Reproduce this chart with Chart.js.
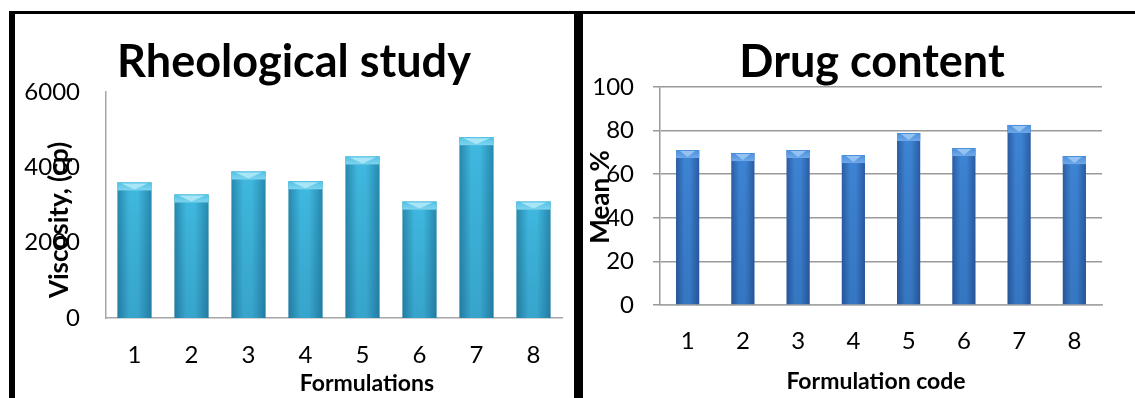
<!DOCTYPE html>
<html>
<head>
<meta charset="utf-8">
<script src="https://cdn.jsdelivr.net/npm/chart.js@4"></script>
<style>
  html, body { margin: 0; padding: 0; background: #fff; }
  body { width: 1135px; height: 398px; position: relative; overflow: hidden; }
  .rule { position: absolute; background: #000; }
  .panel { position: absolute; }
</style>
</head>
<body>
<div class="rule" style="left:9px;top:11px;width:1126px;height:3px;"></div>
<div class="rule" style="left:9px;top:11px;width:6px;height:387px;"></div>
<div class="rule" style="left:574px;top:11px;width:9px;height:387px;"></div>
<div class="panel" style="left:15px;top:14px;width:558px;height:384px;"><canvas id="rheo" width="558" height="384"></canvas></div>
<div class="panel" style="left:583px;top:14px;width:552px;height:384px;"><canvas id="drug" width="552" height="384"></canvas></div>
<script>
// Formulation codes shared by both panels
const formulations = ['1', '2', '3', '4', '5', '6', '7', '8'];
// Viscosity of each formulation, cp
const viscosity = [3600, 3280, 3890, 3630, 4290, 3090, 4800, 3090];
const viscosityTicks = [0, 2000, 4000, 6000];
// Mean drug content of each formulation, %
const drugContent = [71.1, 69.7, 71.1, 68.8, 78.9, 72.0, 82.6, 68.3];
const drugTicks = [0, 20, 40, 60, 80, 100];

const FONT = 'Lato, "Open Sans", sans-serif';

// Horizontal cylinder-like shading for each bar, computed from the x scale.
function barShade(edge, mid, pct) {
  return function (c) {
    const chart = c.chart;
    const xs = chart.scales && chart.scales.x;
    if (c.dataIndex === undefined || !xs || !chart.chartArea) return mid;
    const cx = xs.getPixelForValue(c.dataIndex);
    const w = (xs.width / formulations.length) * pct;
    const g = chart.ctx.createLinearGradient(cx - w / 2, 0, cx + w / 2, 0);
    g.addColorStop(0, edge);
    g.addColorStop(0.35, mid);
    g.addColorStop(0.6, mid);
    g.addColorStop(1, edge);
    return g;
  };
}

// Lighter bevelled cap on top of each bar, and a soft darkening toward the base
const barCaps = {
  id: 'barCaps',
  afterDatasetsDraw(chart, args, opts) {
    const ctx = chart.ctx;
    chart.getDatasetMeta(0).data.forEach(bar => {
      const { x, y, width, base } = bar.getProps(['x', 'y', 'width', 'base'], true);
      const l = x - width / 2, r = x + width / 2;
      ctx.save();
      const cap = ctx.createLinearGradient(0, y, 0, y + 8);
      cap.addColorStop(0, opts.cap);
      cap.addColorStop(1, opts.capEnd);
      ctx.fillStyle = cap;
      ctx.fillRect(l, y, width, 8);
      ctx.fillStyle = opts.glow;
      ctx.beginPath();
      ctx.moveTo(l + 4, y + 1);
      ctx.lineTo(r - 4, y + 1);
      ctx.lineTo(x, y + 7);
      ctx.closePath();
      ctx.fill();
      const sh = ctx.createLinearGradient(0, y, 0, base);
      sh.addColorStop(0, 'rgba(0,0,0,0)');
      sh.addColorStop(1, 'rgba(0,20,60,0.12)');
      ctx.fillStyle = sh;
      ctx.fillRect(l, y + 8, width, base - y - 8);
      ctx.restore();
    });
  }
};

// Chart title and axis titles, placed at fixed spots on the canvas
const panelText = {
  id: 'panelText',
  afterDraw(chart, args, opts) {
    const ctx = chart.ctx;
    ctx.save();
    ctx.fillStyle = '#000';
    ctx.textAlign = 'center';
    ctx.textBaseline = 'alphabetic';
    ctx.font = 'bold 45px ' + FONT;
    ctx.fillText(opts.title, opts.titleX, opts.titleY);
    ctx.font = 'bold 23px ' + FONT;
    ctx.fillText(opts.xTitle, opts.xTitleX, opts.xTitleY);
    ctx.translate(opts.yTitleX, opts.yTitleY);
    ctx.rotate(-Math.PI / 2);
    ctx.textBaseline = 'middle';
    ctx.font = 'bold 26px ' + FONT;
    ctx.fillText(opts.yTitle, 0, 0);
    ctx.restore();
  }
};

function fixSize(w, h) {
  return function (scale) {
    if (w !== undefined) scale.width = w;
    if (h !== undefined) scale.height = h;
  };
}

const plainTick = v => String(v);

// Rheological study
new Chart(document.getElementById('rheo'), {
  type: 'bar',
  data: {
    labels: formulations,
    datasets: [{
      data: viscosity,
      backgroundColor: barShade('#2789ae', '#3fb8e0', 0.6),
      borderWidth: 0,
      barPercentage: 0.6,
      categoryPercentage: 1
    }]
  },
  plugins: [barCaps, panelText],
  options: {
    responsive: false,
    animation: false,
    events: [],
    layout: { padding: { left: 0, right: 11, top: 78, bottom: 0 } },
    plugins: {
      legend: { display: false },
      title: { display: false },
      tooltip: { enabled: false },
      barCaps: { cap: '#4fc2e6', capEnd: '#7fd4ee', glow: '#a8e6f7' },
      panelText: {
        title: 'Rheological study', titleX: 279, titleY: 63,
        xTitle: 'Formulations', xTitleX: 352, xTitleY: 377,
        yTitle: 'Viscosity, (cp)', yTitleX: 45, yTitleY: 206
      }
    },
    scales: {
      x: {
        afterFit: fixSize(undefined, 80),
        grid: { display: false, drawTicks: false },
        border: { display: true, color: '#a6a6a6', width: 1.5 },
        ticks: { color: '#000', padding: 23, font: { family: FONT, size: 24 } }
      },
      y: {
        min: 0, max: 6000,
        afterFit: fixSize(91, undefined),
        afterBuildTicks: s => { s.ticks = viscosityTicks.map(v => ({ value: v })); },
        grid: { display: false, drawTicks: false },
        border: { display: true, color: '#a6a6a6', width: 1.5 },
        ticks: { color: '#000', padding: 26, callback: plainTick, font: { family: FONT, size: 24 } }
      }
    }
  }
});

// Drug content
new Chart(document.getElementById('drug'), {
  type: 'bar',
  data: {
    labels: formulations,
    datasets: [{
      data: drugContent,
      backgroundColor: barShade('#2a5ca4', '#3d84d4', 0.42),
      borderWidth: 0,
      barPercentage: 0.42,
      categoryPercentage: 1
    }]
  },
  plugins: [barCaps, panelText],
  options: {
    responsive: false,
    animation: false,
    events: [],
    layout: { padding: { left: 0, right: 33, top: 73, bottom: 0 } },
    plugins: {
      legend: { display: false },
      title: { display: false },
      tooltip: { enabled: false },
      barCaps: { cap: '#4a8fdc', capEnd: '#6ea8e8', glow: '#94c3f2' },
      panelText: {
        title: 'Drug content', titleX: 289, titleY: 63,
        xTitle: 'Formulation code', xTitleX: 293, xTitleY: 375,
        yTitle: 'Mean %', yTitleX: 18, yTitleY: 183
      }
    },
    scales: {
      x: {
        afterFit: fixSize(undefined, 93),
        grid: { display: false, drawTicks: false },
        border: { display: true, color: '#a6a6a6', width: 1.5 },
        ticks: { color: '#000', padding: 22, font: { family: FONT, size: 24 } }
      },
      y: {
        min: 0, max: 100,
        afterFit: fixSize(77, undefined),
        afterBuildTicks: s => { s.ticks = drugTicks.map(v => ({ value: v })); },
        grid: { display: true, color: '#9a9a9a', lineWidth: 1.5, drawTicks: true, tickLength: 7 },
        border: { display: true, color: '#9a9a9a', width: 1.5 },
        ticks: { color: '#000', padding: 19, callback: plainTick, font: { family: FONT, size: 24 } }
      }
    }
  }
});
</script>
</body>
</html>
